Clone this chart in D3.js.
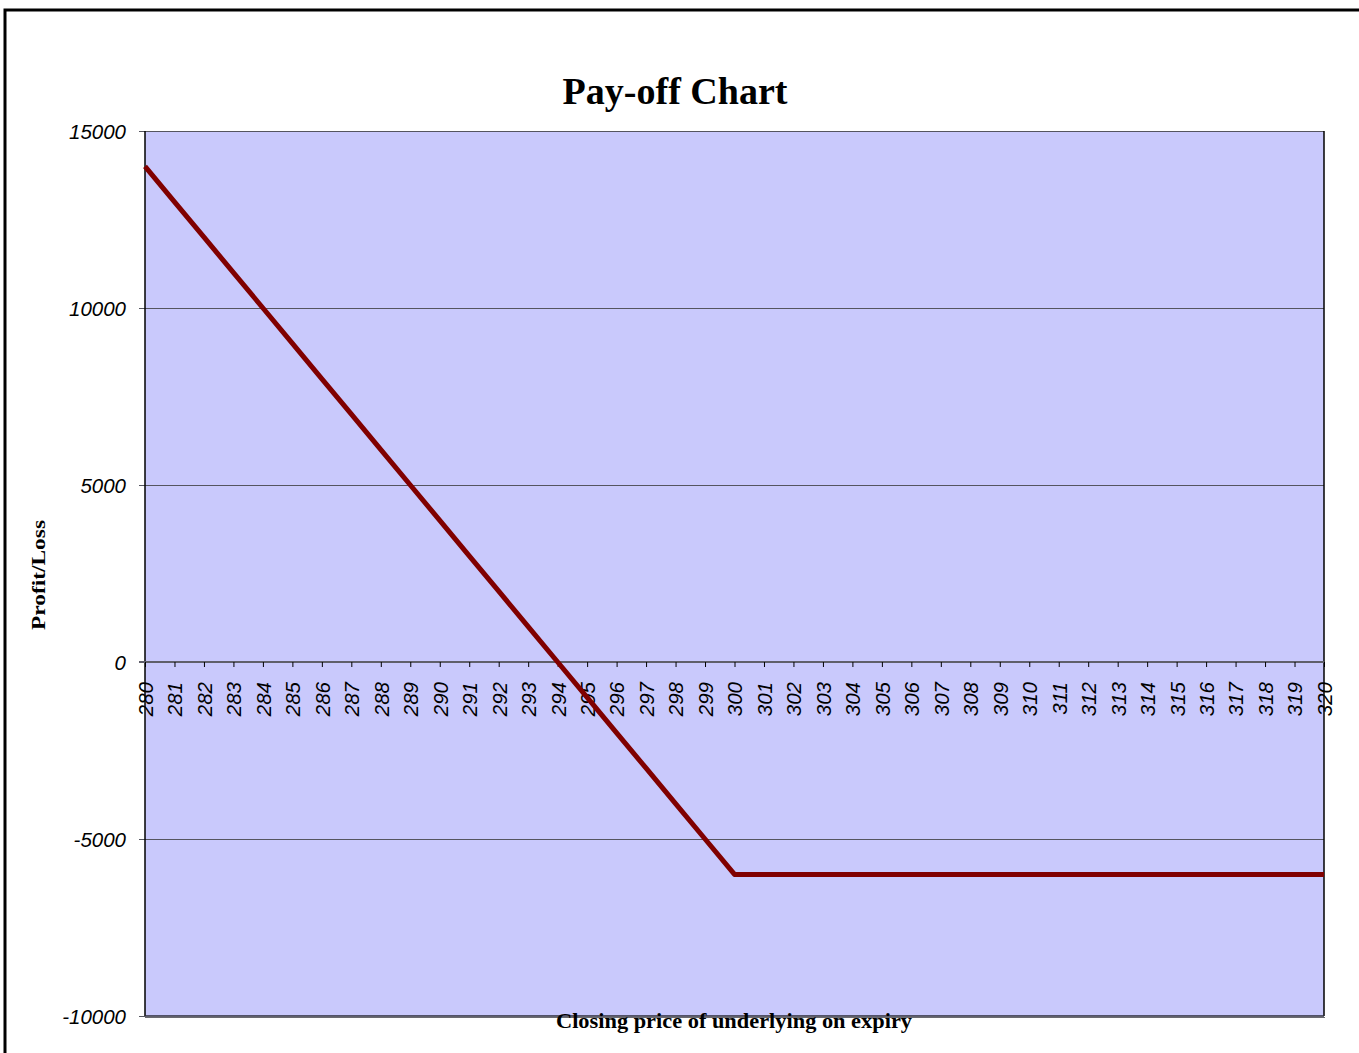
<!DOCTYPE html>
<html>
<head>
<meta charset="utf-8">
<script src="https://cdn.jsdelivr.net/npm/d3@7"></script>
<style>
  html, body { margin: 0; padding: 0; background: #fff; }
  svg { display: block; }
</style>
</head>
<body>
<svg id="chart" width="1359" height="1053"></svg>
<script>
// ---- data ----
const prices = [280,281,282,283,284,285,286,287,288,289,290,291,292,293,294,295,296,297,298,299,300,
                301,302,303,304,305,306,307,308,309,310,311,312,313,314,315,316,317,318,319,320];
const payoff = [14000,13000,12000,11000,10000,9000,8000,7000,6000,5000,4000,3000,2000,1000,0,
                -1000,-2000,-3000,-4000,-5000,-6000,
                -6000,-6000,-6000,-6000,-6000,-6000,-6000,-6000,-6000,-6000,
                -6000,-6000,-6000,-6000,-6000,-6000,-6000,-6000,-6000,-6000];
const yTicks = [-10000,-5000,0,5000,10000,15000];
const titleText = "Pay-off Chart";
const xTitle = "Closing price of underlying on expiry";
const yTitle = "Profit/Loss";

// ---- layout ----
const svg = d3.select("#chart");
const L = 145, R = 1324, T = 131, B = 1016;

const x = d3.scalePoint().domain(prices).range([L, R]);
const y = d3.scaleLinear().domain([-10000, 15000]).range([B, T]);

// outer border
svg.append("rect").attr("x", 5).attr("y", 10).attr("width", 1400).attr("height", 1100)
  .attr("fill", "#fff").attr("stroke", "#000").attr("stroke-width", 3);

// plot background
svg.append("rect").attr("x", L).attr("y", T).attr("width", R - L).attr("height", B - T)
  .attr("fill", "#C9C9FC");

// gridlines (non-zero)
svg.append("g").selectAll("line").data(yTicks.filter(d => d !== 0 && d !== -10000)).join("line")
  .attr("x1", L).attr("x2", R).attr("y1", d => Math.round(y(d)) + 0.5).attr("y2", d => Math.round(y(d)) + 0.5)
  .attr("stroke", "#55555f").attr("stroke-width", 1);

// y axis with outer ticks
const yAxis = d3.axisLeft(y).tickValues(yTicks).tickSize(6).tickFormat(d => d);
const gy = svg.append("g").attr("transform", `translate(${L},0)`).call(yAxis);
gy.select(".domain").remove();
gy.selectAll(".tick line").attr("stroke", "#55555f");
gy.selectAll(".tick text")
  .attr("x", -19).attr("dy", "0.35em")
  .attr("font-family", "'Liberation Sans', Arial, sans-serif")
  .attr("font-style", "italic").attr("font-size", 20.5).attr("fill", "#000");

// plot border (left, right, bottom)
svg.append("line").attr("x1", L).attr("x2", L).attr("y1", T).attr("y2", B)
  .attr("stroke", "#000").attr("stroke-width", 1.5);
svg.append("line").attr("x1", R).attr("x2", R).attr("y1", T).attr("y2", B)
  .attr("stroke", "#000").attr("stroke-width", 1.5);
svg.append("line").attr("x1", L).attr("x2", R + 1).attr("y1", B + 1.5).attr("y2", B + 1.5)
  .attr("stroke", "#6a6a70").attr("stroke-width", 1);
svg.append("line").attr("x1", L).attr("x2", R).attr("y1", B).attr("y2", B)
  .attr("stroke", "#2a2a3a").attr("stroke-width", 1.5);

// x axis at zero with inner ticks going down
const xAxis = d3.axisBottom(x).tickSize(5).tickSizeOuter(0);
const gx = svg.append("g").attr("transform", `translate(0,${y(0)})`).call(xAxis);
gx.select(".domain").attr("stroke", "#5f5f6a").attr("stroke-width", 2)
  .attr("d", `M${L - 6},0H${R}`);
gx.selectAll(".tick line").attr("stroke", "#000").attr("stroke-width", 1);
gx.selectAll(".tick text")
  .attr("transform", "rotate(-90)")
  .attr("x", -20).attr("y", 0).attr("dy", "0.36em")
  .attr("text-anchor", "end")
  .attr("font-family", "'Liberation Sans', Arial, sans-serif")
  .attr("font-style", "italic").attr("font-size", 20.5).attr("fill", "#000");

// series line
const line = d3.line().x((d, i) => x(prices[i])).y(d => y(d));
svg.append("path").datum(payoff).attr("d", line)
  .attr("fill", "none").attr("stroke", "#800000").attr("stroke-width", 5)
  .attr("stroke-linejoin", "round");

// titles
svg.append("text").attr("x", 675).attr("y", 104).attr("text-anchor", "middle")
  .attr("font-family", "'Liberation Serif', 'DejaVu Serif', serif")
  .attr("font-weight", "bold").attr("font-size", 37)
  .attr("textLength", 225).attr("lengthAdjust", "spacingAndGlyphs")
  .text(titleText);

svg.append("text").attr("x", 734).attr("y", 1028).attr("text-anchor", "middle")
  .attr("font-family", "'Liberation Serif', serif")
  .attr("font-weight", "bold").attr("font-size", 21)
  .attr("textLength", 356).attr("lengthAdjust", "spacingAndGlyphs")
  .text(xTitle);

svg.append("text").attr("transform", "translate(45,575) rotate(-90)")
  .attr("text-anchor", "middle")
  .attr("font-family", "'Liberation Serif', serif")
  .attr("font-weight", "bold").attr("font-size", 19)
  .attr("textLength", 110).attr("lengthAdjust", "spacingAndGlyphs")
  .text(yTitle);
</script>
</body>
</html>
